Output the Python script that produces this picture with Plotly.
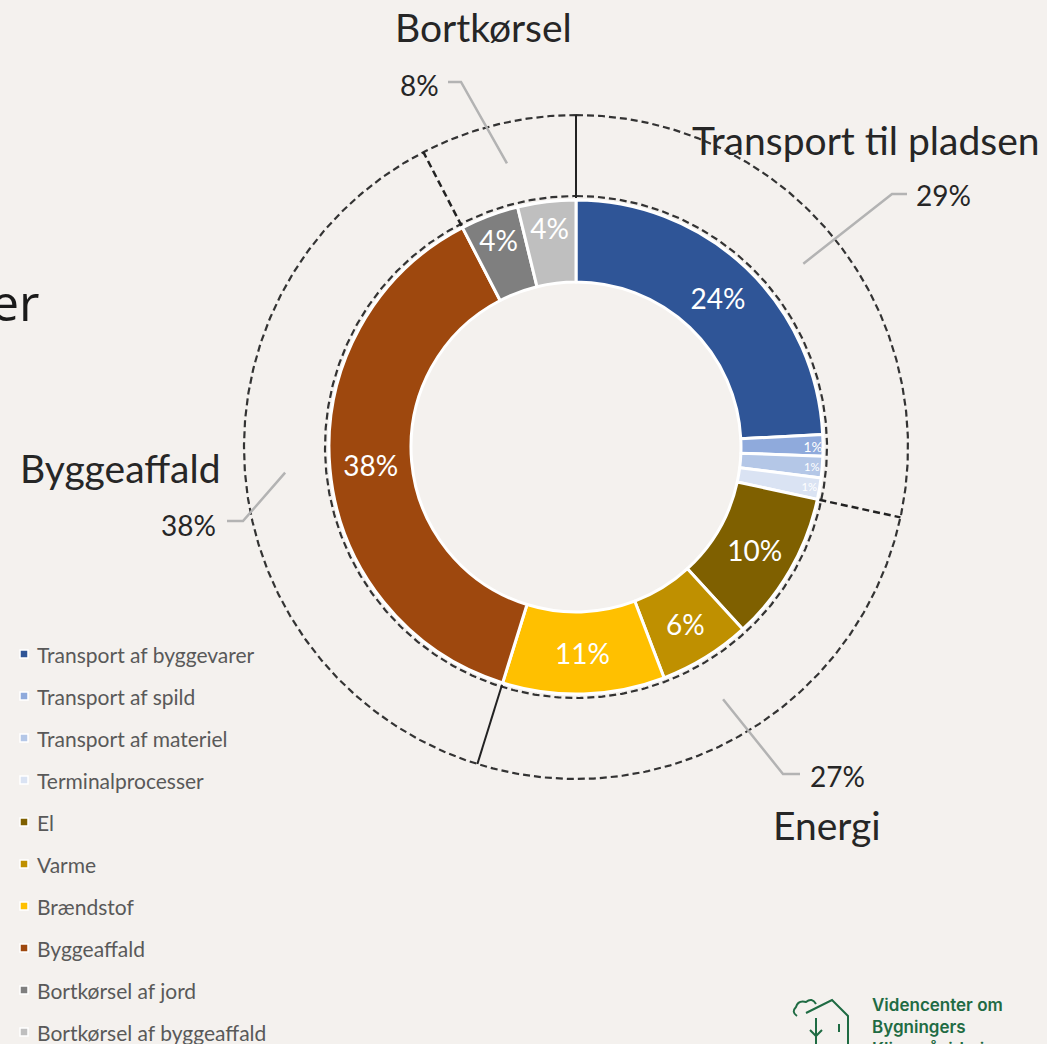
import numpy as np
import plotly.graph_objects as go

# ---------------- data ----------------
categories = ["Transport af byggevarer", "Transport af spild", "Transport af materiel",
              "Terminalprocesser", "El", "Varme", "Brændstof", "Byggeaffald",
              "Bortkørsel af jord", "Bortkørsel af byggeaffald"]
values = [24.2, 1.4, 1.4, 1.4, 9.8, 6.0, 10.6, 37.6, 3.8, 3.8]
colors = ["#2F5597", "#8FAADC", "#B4C7E7", "#DAE3F3", "#7F6000", "#BF9000",
          "#FFC000", "#9E480E", "#7F7F7F", "#BFBFBF"]

group_names = ["Transport til pladsen", "Energi", "Byggeaffald", "Bortkørsel"]
group_sizes = [4, 3, 1, 2]            # number of slices in each group
group_pct = [29, 27, 38, 8]           # printed group percentages

# ---------------- layout constants ----------------
W, H = 1047, 1044
CX, CY = 576, 447
R_OUT = 247
HOLE = 0.668
R_EDGE = 251
R_RING = 332
R_LEAD = 292
BG = "#F4F1EE"
FONT = "Lato"

fig = go.Figure()

fig.add_trace(go.Pie(
    labels=categories, values=values, sort=False, direction="clockwise", rotation=0,
    hole=HOLE, marker=dict(colors=colors, line=dict(color="white", width=3)),
    textinfo="percent", texttemplate="%{percent:.0%}", textposition="inside",
    insidetextorientation="horizontal",
    textfont=dict(family=FONT, size=28, color="white"),
    domain=dict(x=[(CX - R_OUT) / W, (CX + R_OUT) / W],
                y=[(H - CY - R_OUT) / H, (H - CY + R_OUT) / H]),
    showlegend=False, hoverinfo="label+percent",
))

def pt(r, ang_deg):
    a = np.radians(ang_deg)
    return CX + r * np.sin(a), CY - r * np.cos(a)

# dashed circles
t = np.linspace(0, 360, 721)
for r in (R_EDGE, R_RING):
    xs, ys = pt(r, t)
    fig.add_trace(go.Scatter(x=xs, y=ys, mode="lines", hoverinfo="skip", showlegend=False,
                             line=dict(color="#333333", width=2.2, dash="7px,4px")))

# group boundaries
total = float(sum(values))
cum = np.concatenate([[0], np.cumsum(values)]) / total * 360
gidx = np.concatenate([[0], np.cumsum(group_sizes)])
bounds = cum[gidx]                       # start angles of each group + final 360
div_styles = ["solid", "dash", "solid", "dash"]   # divider at start of each group
for k in range(len(group_names)):
    a = bounds[k]
    x0, y0 = pt(R_EDGE - 2, a)
    x1, y1 = pt(R_RING, a)
    fig.add_trace(go.Scatter(x=[x0, x1], y=[y0, y1], mode="lines", hoverinfo="skip",
                             showlegend=False,
                             line=dict(color="#222222", width=2 if div_styles[k] == "solid" else 2.5,
                                       dash="solid" if div_styles[k] == "solid" else "7px,4px")))

# group labels: elbow point, end of horizontal, pct text pos/anchor, name text pos
label_layout = [
    dict(elbow=(892, 194), end=(907, 194), pct=(914, 195, "left"), name=(866, 140)),
    dict(elbow=(783, 774), end=(800, 774), pct=(808, 776, "left"), name=(827, 825)),
    dict(elbow=(243, 521), end=(227, 521), pct=(218, 525, "right"), name=(120, 468)),
    dict(elbow=(461, 82), end=(448, 82), pct=(441, 85, "right"), name=(483, 27)),
]
for k, name in enumerate(group_names):
    mid = (bounds[k] + bounds[k + 1]) / 2
    sx, sy = pt(R_LEAD, mid)
    L = label_layout[k]
    fig.add_trace(go.Scatter(x=[sx, L["elbow"][0], L["end"][0]], y=[sy, L["elbow"][1], L["end"][1]],
                             mode="lines", hoverinfo="skip", showlegend=False,
                             line=dict(color="#B3B3B3", width=2.5)))
    px, py, anc = L["pct"]
    fig.add_annotation(x=px, y=py, xref="x", yref="y", text=f"{group_pct[k]}%", showarrow=False,
                       xanchor=anc, yanchor="middle",
                       font=dict(family=FONT, size=28, color="#262626"))
    nx, ny = L["name"]
    fig.add_annotation(x=nx, y=ny, xref="x", yref="y", text=name, showarrow=False,
                       xanchor="center", yanchor="middle",
                       font=dict(family=FONT, size=39, color="#262626"))

# manual legend
LEG_X, LEG_Y0, LEG_DY = 24, 654, 42
leg_y = [LEG_Y0 + i * LEG_DY for i in range(len(categories))]
fig.add_trace(go.Scatter(x=[LEG_X] * len(categories), y=leg_y, mode="markers", hoverinfo="skip",
                         showlegend=False,
                         marker=dict(symbol="square", size=8, color=colors,
                                     line=dict(color="white", width=1.5))))
for i, c in enumerate(categories):
    fig.add_annotation(x=LEG_X + 11, y=leg_y[i], xref="x", yref="y", text=c, showarrow=False,
                       xanchor="left", yanchor="middle",
                       font=dict(family=FONT, size=21, color="#595959"))

# cropped title fragment on the left
fig.add_annotation(x=42, y=302, xref="x", yref="y", text="er", showarrow=False,
                   xanchor="right", yanchor="middle",
                   font=dict(family="Open Sans", size=50, color="#1a1a1a"))

# logo (bottom right)
GREEN = "#1F6B43"
fig.add_annotation(x=870, y=993, xref="x", yref="y",
                   text="Videncenter om<br>Bygningers<br>Klimapåvirkninger", showarrow=False,
                   xanchor="left", yanchor="top", align="left",
                   font=dict(family="Inter", size=17, color=GREEN, weight=600))
logo_paths = [
    "M 806 1013 L 832 1000 L 848 1016 L 848 1044",
    "M 797 1016 Q 791 1012 796 1007 Q 798 1000 806 1002 Q 812 997 816 1004",
    "M 816 1018 L 816 1044 M 810 1030 L 816 1036 L 822 1030",
    "M 839 1024 L 839 1032",
]
for p in logo_paths:
    fig.add_shape(type="path", path=p, xref="x", yref="y", line=dict(color=GREEN, width=2))

fig.update_layout(
    width=W, height=H, margin=dict(l=0, r=0, t=0, b=0, autoexpand=False),
    paper_bgcolor=BG, plot_bgcolor=BG,
    xaxis=dict(range=[0, W], visible=False, fixedrange=True, domain=[0, 1]),
    yaxis=dict(range=[H, 0], visible=False, fixedrange=True, domain=[0, 1]),
    showlegend=False,
)

fig.write_html("out.html", config={"displayModeBar": False},
               post_script="document.body.style.margin='0';document.body.style.overflow='hidden';"
                           "document.body.style.background='" + BG + "';")
